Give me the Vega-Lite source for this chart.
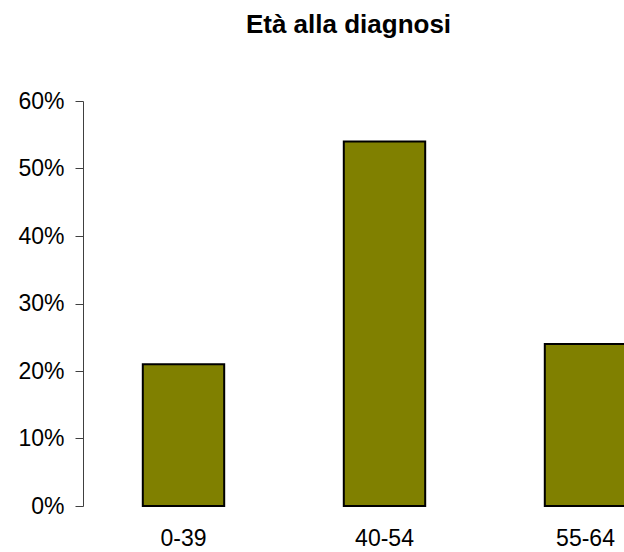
{
  "$schema": "https://vega.github.io/schema/vega-lite/v6.json",
  "autosize": {"type": "none"},
  "padding": {"left": 83, "top": 101, "right": 0, "bottom": 46},
  "width": 603,
  "height": 405,
  "background": "white",
  "title": {
    "text": "Età alla diagnosi",
    "font": "Liberation Sans",
    "fontSize": 26,
    "fontWeight": "bold",
    "color": "black",
    "anchor": "middle",
    "dx": -36,
    "baseline": "alphabetic",
    "offset": 31
  },
  "data": {
    "values": [
      {"eta": "0-39", "pct": 0.21},
      {"eta": "40-54", "pct": 0.54},
      {"eta": "55-64", "pct": 0.24}
    ]
  },
  "mark": {"type": "bar", "color": "#808000", "stroke": "black", "strokeWidth": 2},
  "encoding": {
    "x": {
      "field": "eta",
      "type": "nominal",
      "sort": null,
      "scale": {"paddingInner": 0.595, "paddingOuter": 0.2975},
      "axis": {
        "title": null,
        "domain": false,
        "ticks": false,
        "labelAngle": 0,
        "labelFont": "Liberation Sans",
        "labelFontSize": 23,
        "labelColor": "black",
        "labelPadding": 21
      }
    },
    "y": {
      "field": "pct",
      "type": "quantitative",
      "scale": {"domain": [0, 0.6], "nice": false},
      "axis": {
        "title": null,
        "format": ".0%",
        "values": [0, 0.1, 0.2, 0.3, 0.4, 0.5, 0.6],
        "grid": false,
        "domainColor": "#404040",
        "tickColor": "#404040",
        "tickSize": 8,
        "labelFont": "Liberation Sans",
        "labelFontSize": 23,
        "labelColor": "black",
        "labelPadding": 11
      }
    }
  },
  "config": {"view": {"stroke": null}}
}
